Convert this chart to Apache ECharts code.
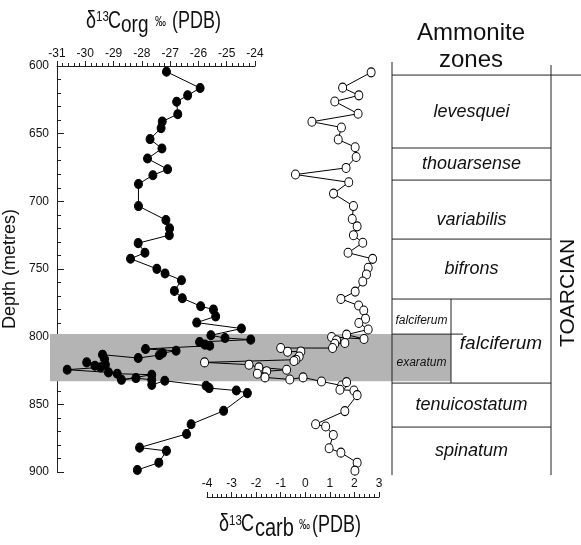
<!DOCTYPE html>
<html>
<head>
<meta charset="utf-8">
<script src="https://cdn.jsdelivr.net/npm/echarts@6/dist/echarts.min.js"></script>
<style>
  html, body { margin: 0; padding: 0; background: #fff; }
  #chart { width: 581px; height: 545px; }
</style>
</head>
<body>
<div id="chart"></div>
<script>
// d13C org (filled), depth in metres
const orgDepth = [604.2, 616.3, 621.7, 626.4, 635.6, 641.0, 645.9, 654.0, 661.0, 668.4,
  676.3, 680.7, 687.2, 703.5, 713.8, 720.0, 725.0, 730.9, 738.0, 742.4,
  749.9, 753.3, 758.3, 766.2, 771.6, 777.5, 780.0, 785.0, 789.6, 794.0,
  799.0, 801.0, 802.2, 803.9, 805.9, 806.7, 809.1, 810.4, 812.1, 813.6,
  815.8, 813.3, 816.5, 820.7, 819.0, 821.5, 822.7, 824.4, 826.4, 827.4,
  828.1, 831.9, 830.6, 831.9, 835.6, 832.6, 836.3, 838.0, 839.8, 841.7,
  854.8, 864.7, 871.9, 882.0, 884.4, 893.1, 898.5];
const orgValue = [-27.13, -25.94, -26.38, -26.77, -26.73, -27.28, -27.32, -27.71, -27.29, -27.80,
  -27.09, -27.61, -28.12, -28.12, -27.15, -27.02, -27.03, -28.13, -27.89, -28.40,
  -27.47, -27.18, -26.60, -26.85, -26.57, -25.92, -25.47, -25.39, -26.06, -24.48,
  -25.56, -25.06, -24.15, -25.96, -25.77, -25.60, -27.87, -26.79, -27.27, -27.38,
  -28.13, -29.39, -29.32, -29.29, -29.95, -29.66, -29.46, -30.64, -29.18, -28.87,
  -27.65, -28.72, -28.21, -27.65, -27.65, -27.19, -25.73, -25.62, -24.66, -24.27,
  -25.11, -26.26, -26.42, -28.08, -27.13, -27.40, -28.16];

// d13C carb (open)
const carbDepth = [604.7, 616.0, 621.7, 626.2, 635.3, 641.2, 645.4, 654.3, 660.0, 667.2,
  675.3, 680.2, 685.9, 694.3, 703.5, 713.1, 718.5, 725.0, 730.6, 738.0,
  742.5, 749.1, 754.0, 759.3, 766.7, 772.1, 777.0, 780.7, 786.7, 789.9,
  794.7, 798.5, 801.7, 800.2, 802.7, 804.7, 805.2, 808.4, 808.4, 811.1,
  810.9, 814.6, 817.0, 818.0, 819.0, 820.7, 822.7, 824.4, 825.6, 827.4,
  830.1, 831.6, 830.1, 833.1, 836.1, 833.6, 839.2, 839.8, 843.2, 855.0,
  864.7, 866.4, 872.6, 882.5, 885.7, 893.1, 899.0];
const carbValue = [2.68, 1.52, 2.18, 1.20, 2.15, 0.27, 1.47, 1.34, 2.03, 2.07,
  1.66, -0.40, 1.77, 1.15, 1.96, 1.91, 2.11, 1.96, 2.34, 1.74,
  2.74, 2.56, 2.49, 2.34, 2.03, 1.45, 2.17, 2.38, 2.45, 2.18,
  2.56, 1.68, 2.39, 1.07, 1.27, 1.61, 1.20, 1.11, -1.00, -0.72,
  -0.18, -0.25, -0.38, -0.46, -4.10, -2.29, -1.89, -0.76, -1.57, -1.95,
  -1.64, -0.63, -0.09, 0.66, 1.48, 1.68, 1.41, 1.98, 2.11, 1.61,
  0.42, 0.83, 1.14, 0.97, 1.45, 2.11, 2.02];

// ammonite zones (depth of top / base)
const zoneNames = ['levesquei', 'thouarsense', 'variabilis', 'bifrons', 'falciferum', 'tenuicostatum', 'spinatum'];
const zoneTop = [606.7, 660.6, 684.3, 727.9, 772.2, 834.3, 866.8];
const zoneBase = [660.6, 684.3, 727.9, 772.2, 834.3, 866.8, 902.3];
const subNames = ['falciferum', 'exaratum'];
const subTop = [772.2, 798.1];
const subBase = [798.1, 834.3];
const bandDepth = [798, 833];
const stageName = 'TOARCIAN';

const FONT = '"Liberation Sans", Arial, sans-serif';
// table columns (pixels, xAxis 2 runs 50..581 so value == pixel)
const COL_L = 392, COL_M = 451, COL_R = 551, PAGE_R = 581, SUB_LINE_END = 463;
const labelShift = { variabilis: 10 };

const chart = echarts.init(document.getElementById('chart'));

const orgData = orgDepth.map((d, i) => [orgValue[i], d]);
const carbData = carbDepth.map((d, i) => [carbValue[i], d]);

function line(x1, y1, x2, y2) {
  return {
    type: 'line',
    shape: { x1: x1, y1: y1, x2: x2, y2: y2 },
    style: { stroke: '#222', lineWidth: 1 }
  };
}
function label(text, x, y, size) {
  return {
    type: 'text',
    style: {
      text: text, x: x, y: y, fill: '#111',
      font: 'italic ' + size + 'px ' + FONT,
      align: 'center', verticalAlign: 'middle'
    }
  };
}

function renderZone(params, api) {
  const i = params.dataIndex;
  const px = function (x, d) { return api.coord([x, d]); };
  const y0 = px(COL_L, zoneTop[i])[1];
  const y1 = px(COL_L, zoneBase[i])[1];
  const kids = [];
  kids.push(line(COL_L, y0, i === 0 ? PAGE_R : COL_R, y0));
  if (i === 0) {
    kids.push(line(COL_L, px(0, 597)[1], COL_L, px(0, zoneBase[zoneBase.length - 1])[1]));
    kids.push(line(COL_R, px(0, 599.3)[1], COL_R, px(0, zoneBase[zoneBase.length - 1])[1]));
  }
  if (zoneNames[i] === 'falciferum') {
    kids.push(line(COL_M, y0, COL_M, y1));
    kids.push(line(COL_L, px(0, subBase[0])[1], SUB_LINE_END, px(0, subBase[0])[1]));
    for (let k = 0; k < subNames.length; k++) {
      const ym = px(0, (subTop[k] + subBase[k]) / 2)[1] + 4;
      kids.push(label(subNames[k], (COL_L + COL_M) / 2, ym, 12));
    }
    kids.push(label(zoneNames[i], (COL_M + COL_R) / 2, (y0 + y1) / 2 + 3, 19));
  } else {
    kids.push(label(zoneNames[i], (COL_L + COL_R) / 2, (y0 + y1) / 2 + (labelShift[zoneNames[i]] || 0), 18));
  }
  return { type: 'group', children: kids };
}

function renderBand(params, api) {
  const a = api.coord([50, bandDepth[0]]);
  const b = api.coord([COL_M, bandDepth[1]]);
  return {
    type: 'rect',
    shape: { x: a[0], y: a[1], width: b[0] - a[0], height: b[1] - a[1] },
    style: { fill: '#b4b4b4' }
  };
}

// title text is drawn a bit taller than wide, like the source figure
function titlePiece(text, x, y, size) {
  return {
    type: 'text', x: x, y: y, scaleY: 1.3,
    style: { text: text, font: size + 'px ' + FONT, fill: '#111', align: 'left', verticalAlign: 'middle' }
  };
}

const tickFont = { fontFamily: FONT, fontSize: 12, color: '#111' };

const option = {
  animation: false,
  backgroundColor: '#fff',
  grid: [
    { left: 50, top: 66, width: 205, height: 406 },
    { left: 207, top: 66, width: 172, height: 406 },
    { left: 50, top: 66, width: 531, height: 406 }
  ],
  xAxis: [
    {
      gridIndex: 0, type: 'value', position: 'top', min: -31, max: -24, interval: 1,
      axisLine: { show: true, onZero: false, lineStyle: { color: '#222' } },
      axisTick: { show: true, length: 5, lineStyle: { color: '#222' } },
      minorTick: { show: true, splitNumber: 5, length: 3, lineStyle: { color: '#222' } },
      axisLabel: Object.assign({ margin: 6, showMinLabel: true, showMaxLabel: true }, tickFont),
      splitLine: { show: false }
    },
    {
      gridIndex: 1, type: 'value', position: 'bottom', offset: 25, min: -4, max: 3, interval: 1,
      axisLine: { show: true, onZero: false, lineStyle: { color: '#222' } },
      axisTick: { show: true, inside: true, length: 5, lineStyle: { color: '#222' } },
      minorTick: { show: true, splitNumber: 5, length: 3, lineStyle: { color: '#222' } },
      axisLabel: Object.assign({ inside: true, margin: 7, showMinLabel: true, showMaxLabel: true }, tickFont),
      splitLine: { show: false }
    },
    { gridIndex: 2, type: 'value', min: 50, max: PAGE_R, show: false }
  ],
  yAxis: [
    {
      gridIndex: 0, type: 'value', inverse: true, min: 600, max: 900, interval: 50,
      name: 'Depth (metres)', nameLocation: 'middle', nameGap: 38, nameRotate: 90,
      nameTextStyle: { fontFamily: FONT, fontSize: 18, color: '#111' },
      axisLine: { show: true, onZero: false, lineStyle: { color: '#222' } },
      axisTick: { show: true, inside: true, length: 7, lineStyle: { color: '#222' } },
      minorTick: { show: true, splitNumber: 5, length: 4, lineStyle: { color: '#222' } },
      axisLabel: Object.assign({ margin: 8, showMinLabel: true, showMaxLabel: true }, tickFont),
      splitLine: { show: false }
    },
    { gridIndex: 1, type: 'value', inverse: true, min: 600, max: 900, show: false },
    { gridIndex: 2, type: 'value', inverse: true, min: 600, max: 900, show: false }
  ],
  series: [
    {
      type: 'custom', xAxisIndex: 2, yAxisIndex: 2, z: 1, silent: true,
      renderItem: renderBand, data: [[0]]
    },
    {
      type: 'custom', xAxisIndex: 2, yAxisIndex: 2, z: 2, silent: true,
      renderItem: renderZone, data: zoneNames.map(function (n, i) { return [i]; })
    },
    {
      name: 'org', type: 'line', xAxisIndex: 0, yAxisIndex: 0, z: 3,
      data: orgData, symbol: 'circle', symbolSize: [8, 9], showAllSymbol: true,
      lineStyle: { color: '#000', width: 1 },
      itemStyle: { color: '#000', borderColor: '#000', borderWidth: 1 },
      clip: false
    },
    {
      name: 'carb', type: 'line', xAxisIndex: 1, yAxisIndex: 1, z: 3,
      data: carbData, symbol: 'circle', symbolSize: [8, 9], showAllSymbol: true,
      lineStyle: { color: '#000', width: 1 },
      itemStyle: { color: '#fff', borderColor: '#000', borderWidth: 1 },
      clip: false
    }
  ],
  graphic: [
    titlePiece('δ', 86, 22, 18),
    titlePiece('13', 96, 16.5, 11.5),
    titlePiece('C', 108, 22, 18),
    titlePiece('org', 121, 25.5, 19),
    titlePiece('‰', 155, 22, 11),
    titlePiece('(PDB)', 172, 22, 18),

    titlePiece('δ', 219, 525, 18),
    titlePiece('13', 229, 520.5, 11.5),
    titlePiece('C', 241, 525, 18),
    titlePiece('carb', 255, 529, 20),
    titlePiece('‰', 299, 525, 11),
    titlePiece('(PDB)', 312, 526, 18),

    {
      type: 'text', x: 471, y: 33,
      style: { text: 'Ammonite', font: '24px ' + FONT, fill: '#111', align: 'center', verticalAlign: 'middle' }
    },
    {
      type: 'text', x: 471, y: 60,
      style: { text: 'zones', font: '24px ' + FONT, fill: '#111', align: 'center', verticalAlign: 'middle' }
    },
    {
      type: 'text', x: 568, y: 293, rotation: Math.PI / 2,
      style: { text: stageName, font: '21px ' + FONT, fill: '#111', align: 'center', verticalAlign: 'middle' }
    }
  ]
};

chart.setOption(option);
</script>
</body>
</html>
